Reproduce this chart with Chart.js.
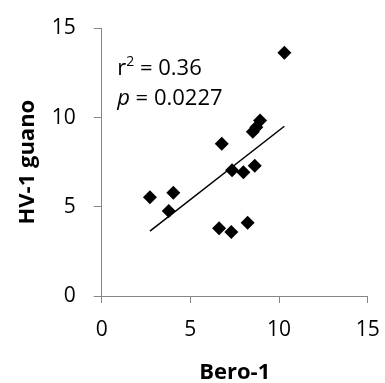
<!DOCTYPE html>
<html><head><meta charset="utf-8">
<script src="https://cdn.jsdelivr.net/npm/chart.js@4"></script>
<style>html,body{margin:0;padding:0;background:#fff}#wrap{width:385px;height:383px}</style>
</head><body><div id="wrap"><canvas id="c" width="385" height="383"></canvas></div>
<script>
const beroX  = [2.72, 4.04, 3.78, 6.77, 6.62, 7.31, 8.23, 7.35, 7.99, 8.63, 8.52, 8.93, 8.72, 10.30];
const guanoY = [5.53, 5.79, 4.76, 8.53, 3.79, 3.59, 4.11, 7.04, 6.93, 7.30, 9.20, 9.84, 9.45, 13.63];
const trendX = [2.72, 10.30];
const trendY = [3.64, 9.51];
const xTicks = [0, 5, 10, 15];
const yTicks = [0, 5, 10, 15];
const xTitle = 'Bero-1';
const yTitle = 'HV-1 guano';
const rSquared = '0.36';
const pValue = '0.0227';

const axisGray = '#868686';
const FONT = '"Open Sans", "DejaVu Sans", sans-serif';

const annot = {
  id: 'annot',
  afterDatasetsDraw(chart) {
    const ctx = chart.ctx;
    const a = chart.chartArea;
    const x0 = a.left + 15.5;
    ctx.save();
    ctx.fillStyle = '#000';
    ctx.textBaseline = 'alphabetic';
    ctx.textAlign = 'left';
    let x = x0, y = a.top + 46.5;
    ctx.font = '22px ' + FONT;
    ctx.fillText('r', x, y); x += ctx.measureText('r').width;
    ctx.font = '14px ' + FONT;
    ctx.fillText('2', x, y - 8.5); x += ctx.measureText('2').width;
    ctx.font = '22px ' + FONT;
    ctx.fillText(' = ' + rSquared, x, y);
    x = x0; y = a.top + 76.5;
    ctx.font = 'italic 22px ' + FONT;
    ctx.fillText('p', x, y); x += ctx.measureText('p').width;
    ctx.font = '22px ' + FONT;
    ctx.fillText(' = ' + pValue, x, y);
    ctx.restore();
  }
};

new Chart(document.getElementById('c'), {
  type: 'scatter',
  data: {
    datasets: [
      {
        label: 'data',
        data: beroX.map((v, i) => ({x: v, y: guanoY[i]})),
        pointStyle: 'rectRot',
        pointRadius: 7,
        pointHoverRadius: 7,
        pointBackgroundColor: '#000',
        pointBorderWidth: 0,
        borderColor: '#000',
        showLine: false,
        order: 1
      },
      {
        label: 'trend',
        data: trendX.map((v, i) => ({x: v, y: trendY[i]})),
        showLine: true,
        borderColor: '#000',
        borderWidth: 1.5,
        pointRadius: 0,
        fill: false,
        order: 2
      }
    ]
  },
  options: {
    responsive: false,
    animation: false,
    events: [],
    layout: {padding: {left: 0, right: 17.3, top: 28.3, bottom: 0}},
    plugins: {legend: {display: false}, tooltip: {enabled: false}},
    scales: {
      x: {
        type: 'linear', min: 0, max: 15,
        afterBuildTicks(s) { s.ticks = xTicks.map(v => ({value: v})); },
        afterFit(s) { s.height = 383 - 296; s.paddingLeft = 0; s.paddingRight = 0; },
        grid: {display: true, drawOnChartArea: false, drawTicks: true, tickLength: 7, color: axisGray, lineWidth: 1},
        border: {display: true, color: axisGray, width: 1},
        ticks: {font: {family: FONT, size: 21}, color: '#000', padding: 14, maxRotation: 0, autoSkip: false},
        title: {display: true, text: xTitle, font: {family: FONT, size: 22, weight: 'bold'}, color: '#000', padding: {top: 0, bottom: -3}}
      },
      y: {
        type: 'linear', min: 0, max: 15,
        afterBuildTicks(s) { s.ticks = yTicks.map(v => ({value: v})); },
        afterFit(s) { s.width = 101.7; s.paddingTop = 0; s.paddingBottom = 0; },
        grid: {display: true, drawOnChartArea: false, drawTicks: true, tickLength: 8, color: axisGray, lineWidth: 1},
        border: {display: true, color: axisGray, width: 1},
        ticks: {font: {family: FONT, size: 21}, color: '#000', padding: 18, autoSkip: false},
        title: {display: true, text: yTitle, font: {family: FONT, size: 22, weight: 'bold'}, color: '#000', padding: {top: 15, bottom: 0}}
      }
    }
  },
  plugins: [annot]
});
</script>
</body></html>
